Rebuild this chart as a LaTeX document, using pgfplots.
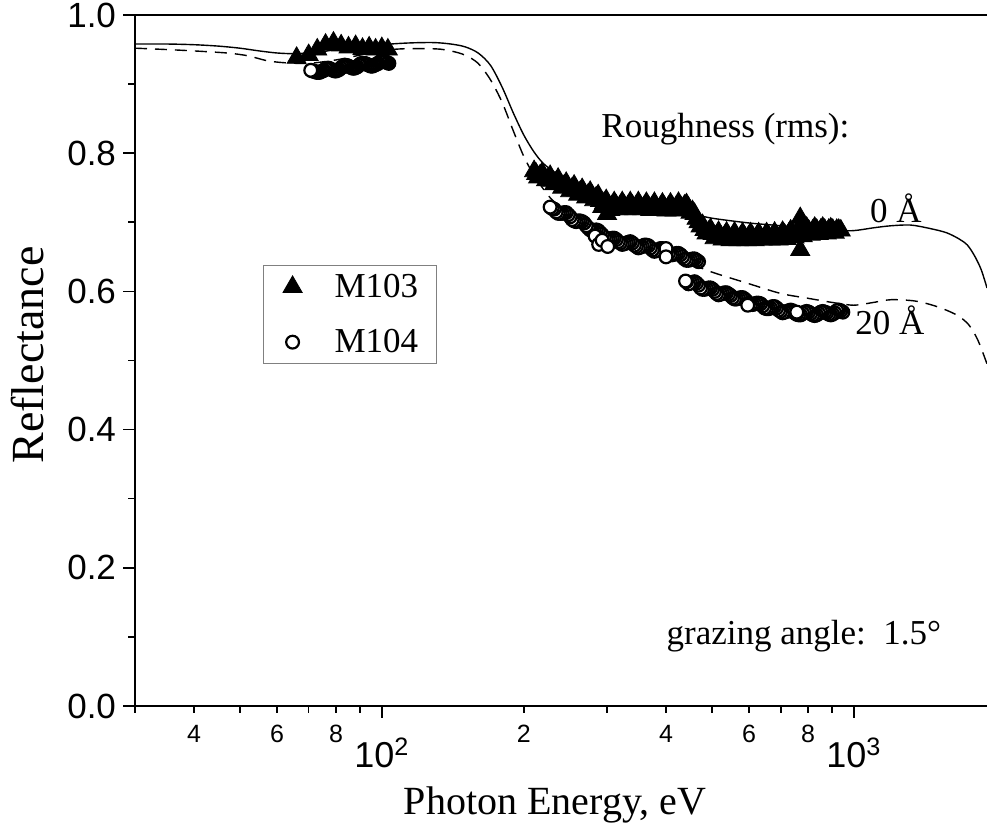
\documentclass[border=0pt]{standalone}
\usepackage{fontspec}
\setmainfont{Liberation Serif}
\newfontfamily\sansf{Liberation Sans}
\usepackage{pgfplots}
\pgfplotsset{compat=1.18}
\begin{document}
\begin{tikzpicture}
\begin{axis}[
  name=ax,
  scale only axis,
  width=426pt, height=345.5pt,
  xmode=log, xmin=30, xmax=1915,
  ymin=0, ymax=1,
  axis x line*=bottom, axis y line*=left,
  axis line style={-, line width=1pt},
  tick align=outside,
  major tick length=6pt, minor tick length=3.5pt,
  tick style={black, line width=0.8pt},
  xtick={100,1000},
  xticklabels={10\textsuperscript{2},10\textsuperscript{3}},
  minor xtick={30,40,50,60,70,80,90,200,300,400,500,600,700,800,900},
  extra x ticks={40,60,80,200,400,600,800},
  extra x tick labels={4,6,8,2,4,6,8},
  extra x tick style={major tick length=3.5pt, xticklabel style={font=\fontsize{12.5}{15}\sansf, anchor=base, yshift=10pt}},
  xticklabel style={font=\fontsize{18}{21}\sansf, anchor=base, yshift=-25pt},
  ytick={0,0.2,0.4,0.6,0.8,1},
  yticklabels={0.0,0.2,0.4,0.6,0.8,1.0},
  minor ytick={0.1,0.3,0.5,0.7,0.9},
  yticklabel style={font=\fontsize{17.5}{21}\sansf},
  xlabel={Photon Energy, eV}, ylabel={Reflectance},
  xlabel style={font=\fontsize{20}{24}\selectfont, at={(axis description cs:0.493,-0.1577)}, anchor=base},
  ylabel style={font=\fontsize{23}{27}\selectfont, at={(axis description cs:-0.1256,0.508)}, anchor=center},
  legend style={at={(axis description cs:0.1502,0.638)}, anchor=north west, draw=gray, line width=0.6pt,
    font=\fontsize{17.5}{21}\selectfont, inner xsep=7pt, inner ysep=2pt, row sep=10.5pt,
    /tikz/every even column/.append style={column sep=4pt}},
  legend cell align=left,
  legend image code/.code={\path[draw=none, fill=none] (0pt,0pt) -- (26.5pt,0pt); \draw[mark repeat=2,mark phase=2,#1] plot coordinates {(0pt,0pt)(7.5pt,0pt)(15pt,0pt)};},
]
% 0 A theory
\addplot[black, line width=0.7pt, smooth, forget plot] table {
30 0.958
35 0.958
40 0.957
45 0.955
50 0.952
55 0.948
60 0.945
65 0.944
70 0.945
75 0.947
80 0.950
90 0.954
100 0.957
110 0.959
120 0.960
130 0.960
140 0.958
150 0.954
160 0.945
170 0.927
180 0.895
190 0.858
200 0.826
210 0.802
220 0.785
235 0.770
250 0.760
275 0.748
300 0.738
350 0.728
400 0.720
450 0.713
500 0.706
600 0.699
700 0.695
800 0.691
900 0.688
1000 0.688
1100 0.692
1200 0.695
1320 0.696
1450 0.691
1570 0.685
1670 0.676
1740 0.667
1800 0.652
1860 0.632
1915 0.605
};
% 20 A theory
\addplot[black, line width=0.7pt, smooth, dash pattern=on 6pt off 4pt, forget plot] table {
30 0.952
35 0.950
40 0.948
47 0.945
52 0.941
57 0.934
62 0.931
70 0.930
80 0.935
90 0.942
100 0.948
110 0.951
130 0.951
140 0.948
150 0.942
160 0.930
170 0.906
180 0.873
190 0.832
200 0.795
210 0.768
220 0.748
230 0.732
250 0.712
275 0.697
300 0.685
350 0.668
400 0.654
450 0.640
500 0.628
550 0.619
600 0.611
700 0.597
800 0.590
900 0.584
1000 0.580
1100 0.584
1200 0.588
1350 0.586
1500 0.578
1650 0.566
1750 0.552
1830 0.530
1915 0.495
};
% M103
\addplot[only marks, mark=triangle*, mark size=5.5pt, mark options={fill=black, draw=black, line width=0.4pt}] table {
66 0.938
70 0.942
73 0.950
76 0.957
79 0.960
82 0.956
85 0.953
88 0.955
91 0.951
94 0.953
97 0.950
100 0.952
103 0.950
210.2 0.774
214.4 0.765
218.6 0.771
222.9 0.761
227.3 0.767
231.8 0.755
236.3 0.763
241.0 0.750
245.8 0.757
250.6 0.745
255.5 0.753
260.6 0.740
265.7 0.748
271.0 0.736
276.3 0.744
281.8 0.732
287.3 0.739
293.0 0.722
298.8 0.732
304.7 0.718
310.7 0.729
316.9 0.719
323.1 0.729
329.6 0.719
336.0 0.729
342.8 0.719
349.5 0.729
356.5 0.719
363.5 0.728
370.7 0.718
378.0 0.728
385.5 0.718
393.1 0.727
400.9 0.717
408.8 0.727
416.9 0.717
425.1 0.728
433.5 0.719
442.0 0.726
450.8 0.714
459.7 0.712
468.8 0.700
478.0 0.696
487.5 0.684
497.1 0.690
506.9 0.677
516.9 0.686
527.1 0.675
537.5 0.685
548.1 0.674
558.8 0.685
569.9 0.674
581.1 0.684
592.6 0.674
604.3 0.684
616.2 0.674
628.4 0.684
640.8 0.675
653.4 0.684
666.3 0.675
679.4 0.685
692.8 0.675
706.5 0.686
720.4 0.676
734.6 0.688
749.0 0.678
763.8 0.690
779.0 0.680
794.4 0.692
810.1 0.682
826.1 0.692
842.4 0.683
859.0 0.692
876.0 0.684
893.3 0.691
911.0 0.685
929.0 0.689
212.3 0.770
216.5 0.768
220.8 0.766
225.1 0.763
229.5 0.760
234.0 0.758
238.6 0.756
243.4 0.753
248.2 0.751
253.0 0.749
258.0 0.746
263.1 0.744
268.3 0.742
273.6 0.740
279.0 0.738
284.5 0.736
290.1 0.731
295.9 0.728
301.7 0.726
307.7 0.724
313.8 0.724
320.0 0.724
326.3 0.724
332.8 0.724
339.4 0.724
346.1 0.724
353.0 0.723
360.0 0.723
367.1 0.723
374.3 0.723
381.7 0.722
389.3 0.722
397.0 0.722
404.8 0.722
412.8 0.722
421.0 0.723
429.3 0.723
437.7 0.724
446.4 0.721
455.2 0.716
464.2 0.705
473.4 0.694
482.7 0.689
492.3 0.686
502.0 0.683
511.9 0.681
522.0 0.680
532.3 0.680
542.8 0.679
553.4 0.679
564.3 0.679
575.5 0.679
586.8 0.679
598.4 0.679
610.2 0.679
622.3 0.679
634.6 0.679
647.1 0.679
659.8 0.680
672.8 0.680
686.1 0.680
699.6 0.681
713.4 0.682
727.5 0.683
741.8 0.684
756.4 0.685
771.4 0.686
786.7 0.687
802.2 0.688
818.1 0.688
834.2 0.689
850.7 0.689
867.5 0.689
884.6 0.689
902.1 0.689
920.0 0.689
938.3 0.688
300 0.712
770 0.706
770 0.660
};
\addlegendentry{M103}
% M104
\addplot[only marks, mark=*, mark size=3.2pt, mark options={fill=white, draw=black, line width=1.1pt}] table {
103.5 0.930
102.7 0.931
102.0 0.932
101.2 0.933
100.5 0.933
99.7 0.933
99.0 0.932
98.3 0.930
97.6 0.929
96.9 0.928
96.2 0.927
95.5 0.926
94.8 0.926
94.1 0.927
93.4 0.928
92.7 0.929
92.0 0.930
91.3 0.930
90.7 0.930
90.0 0.929
89.4 0.927
88.7 0.925
88.1 0.924
87.4 0.923
86.8 0.923
86.1 0.924
85.5 0.925
84.9 0.926
84.3 0.927
83.6 0.927
83.0 0.926
82.4 0.925
81.8 0.923
81.2 0.921
80.6 0.920
80.0 0.919
79.5 0.919
78.9 0.920
78.3 0.921
77.7 0.922
77.2 0.923
76.6 0.923
76.0 0.922
75.4 0.920
74.9 0.919
74.3 0.918
73.8 0.917
73.3 0.917
72.8 0.917
72.2 0.918
71.7 0.919
71.2 0.919
70.7 0.920
468.8 0.643
464.2 0.645
459.7 0.647
455.2 0.647
450.8 0.646
446.4 0.645
442.0 0.645
437.7 0.647
433.5 0.650
429.3 0.653
425.1 0.655
421.0 0.655
416.9 0.654
412.8 0.653
408.8 0.653
404.8 0.655
400.9 0.658
397.0 0.661
393.1 0.662
389.3 0.662
385.5 0.660
381.7 0.659
378.0 0.658
374.3 0.660
370.7 0.663
367.1 0.666
363.5 0.667
360.0 0.667
356.5 0.665
353.0 0.664
349.5 0.663
346.1 0.665
342.8 0.667
339.4 0.670
336.0 0.672
332.8 0.671
329.6 0.670
326.3 0.669
323.1 0.668
320.0 0.670
316.9 0.672
313.8 0.675
310.7 0.677
307.7 0.677
304.7 0.676
301.7 0.676
298.8 0.676
295.9 0.678
293.0 0.682
290.1 0.685
287.3 0.688
284.5 0.689
281.8 0.688
279.0 0.688
276.3 0.689
273.6 0.692
271.0 0.695
268.3 0.699
265.7 0.701
263.1 0.702
260.6 0.702
258.0 0.701
255.5 0.702
253.0 0.704
250.6 0.708
248.2 0.711
245.8 0.714
243.4 0.714
241.0 0.713
238.6 0.713
236.3 0.713
234.0 0.715
231.8 0.719
229.5 0.720
227.3 0.722
283 0.680
288 0.668
293 0.674
301 0.665
400 0.662
400 0.650
947.6 0.570
938.3 0.572
929.0 0.573
920.0 0.572
911.0 0.569
902.1 0.567
893.3 0.566
884.6 0.567
876.0 0.569
867.5 0.570
859.0 0.571
850.7 0.570
842.4 0.568
834.2 0.566
826.1 0.565
818.1 0.566
810.1 0.568
802.2 0.570
794.4 0.571
786.7 0.570
779.0 0.568
771.4 0.566
763.8 0.566
756.4 0.567
749.0 0.569
741.8 0.572
734.6 0.573
727.5 0.572
720.4 0.571
713.4 0.570
706.5 0.569
699.6 0.571
692.8 0.573
686.1 0.576
679.4 0.578
672.8 0.578
666.3 0.576
659.8 0.575
653.4 0.575
647.1 0.576
640.8 0.579
634.6 0.582
628.4 0.583
622.3 0.583
616.2 0.582
610.2 0.581
604.3 0.581
598.4 0.583
592.6 0.586
586.8 0.589
581.1 0.591
575.5 0.591
569.9 0.590
564.3 0.589
558.8 0.589
553.4 0.591
548.1 0.594
542.8 0.596
537.5 0.598
532.3 0.598
527.1 0.597
522.0 0.596
516.9 0.595
511.9 0.597
506.9 0.600
502.0 0.603
497.1 0.605
492.3 0.605
487.5 0.604
482.7 0.603
478.0 0.603
473.4 0.605
468.8 0.609
464.2 0.612
459.7 0.614
455.2 0.613
450.8 0.612
446.4 0.611
442.0 0.614
596 0.580
757 0.570
440 0.615
};
\addlegendentry{M104}
\draw[line width=1pt] (rel axis cs:0,1) -- (rel axis cs:1,1);
\node[anchor=base, font=\fontsize{17.5}{21}\selectfont] at (rel axis cs:0.693,0.8234) {Roughness (rms):};
\node[anchor=base, font=\fontsize{17.5}{21}\selectfont] at (rel axis cs:0.893,0.699) {0 Å};
\node[anchor=base, font=\fontsize{17.5}{21}\selectfont] at (rel axis cs:0.886,0.537) {20 Å};
\node[anchor=base, font=\fontsize{17.5}{21}\selectfont] at (rel axis cs:0.785,0.0883) {grazing angle:\ \ 1.5°};
\end{axis}
\pgfresetboundingbox
\path[use as bounding box] ([shift={(-67.5pt,-59.5pt)}]ax.south west) rectangle ([shift={(0pt,7.5pt)}]ax.north east);
\end{tikzpicture}
\end{document}
